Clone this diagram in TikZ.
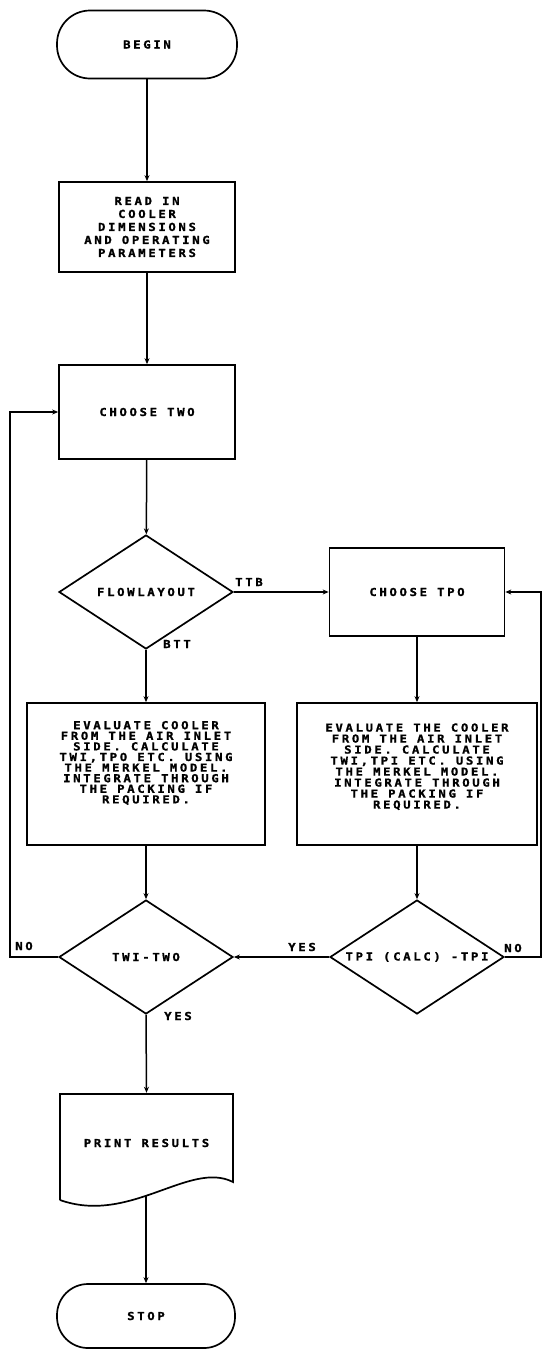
\documentclass[tikz,border=0pt]{standalone}
\usepackage{fontspec}
\usetikzlibrary{shapes.geometric,arrows.meta}
\newfontfamily\plotfont[LetterSpace=24, FakeStretch=1.12, FakeBold=1.3]{DejaVu Sans Mono Bold}
\tikzset{
  every node/.style={font=\plotfont\fontsize{11}{11}\selectfont},
  term/.style={draw, line width=1.7pt, rectangle, rounded corners=33pt, minimum width=180pt, minimum height=68pt},
  proc/.style={draw, line width=1.7pt, rectangle, align=center, inner sep=0pt},
  dec/.style={draw, diamond, line width=1.7pt, aspect=1.5, inner sep=0pt, minimum width=174pt, minimum height=114pt},
  flow/.style={line width=1.5pt, -{Stealth[length=6pt,width=5pt]}},
  lbl/.style={inner sep=0pt},
  docline/.style={line width=1.7pt}
}
\begin{document}
\begin{tikzpicture}[x=1pt,y=-1pt]
\useasboundingbox (0,0) rectangle (544,1352);
% nodes
\node[term] (begin) at (147,44.5) {BEGIN};
\node[proc, minimum width=176pt, minimum height=90pt, font=\plotfont\fontsize{11}{13}\selectfont] (read) at (147,227) {READ IN\\COOLER\\DIMENSIONS\\AND OPERATING\\PARAMETERS};
\node[proc, minimum width=176pt, minimum height=94pt] (two) at (147,412) {CHOOSE TWO};
\node[dec] (flow) at (146,592) {FLOWLAYOUT};
\node[proc, minimum width=175pt, minimum height=88pt] (tpo) at (417,592) {CHOOSE TPO};
\node[proc, minimum width=238pt, minimum height=142pt, font=\plotfont\fontsize{11}{10.6}\selectfont] (evl) at (146,774) {EVALUATE COOLER\\FROM THE AIR INLET\\SIDE. CALCULATE\\TWI,TPO ETC. USING\\THE MERKEL MODEL.\\INTEGRATE THROUGH\\THE PACKING IF\\REQUIRED.\\[13pt]\mbox{}};
\node[proc, minimum width=240pt, minimum height=142pt] (evr) at (417,774) {EVALUATE THE COOLER\\FROM THE AIR INLET\\SIDE. CALCULATE\\TWI,TPI ETC. USING\\THE MERKEL MODEL.\\INTEGRATE THROUGH\\THE PACKING IF\\REQUIRED.\\[5pt]\mbox{}};
\node[dec] (tpi) at (417,957) {TPI (CALC) -TPI};
\node[dec] (twi) at (146,957) {TWI-TWO};
\node[minimum width=173pt, minimum height=100pt, inner sep=0pt] (print) at (146.5,1143) {PRINT RESULTS};
\draw[docline] (60,1200) -- (60,1094) -- (233,1094) -- (233,1182) .. controls (190,1160) and (130,1225) .. (60,1200);
\coordinate (printout) at (146,1196);
\node[term, minimum width=178pt, minimum height=64pt, rounded corners=31pt] (stop) at (146,1316) {STOP};
\coordinate (loopL) at (10,957);
\coordinate (loopR) at (541,957);
% connectors
\draw[flow] (begin) -- (read);
\draw[flow] (read) -- (two);
\draw[flow] (two) -- (flow);
\draw[flow] (flow.east) -- (tpo.west);
\draw[flow] (flow.south) -- (evl.north);
\draw[flow] (tpo.south) -- (evr.north);
\draw[flow] (evl) -- (twi);
\draw[flow] (evr) -- (tpi);
\draw[flow] (tpi.west) -- (twi.east);
\draw[flow] (twi.west) -- (loopL) |- (two.west);
\draw[flow] (tpi.east) -- (loopR) |- (tpo.east);
\draw[flow] (twi.south) -- (print.north);
\draw[flow] (printout) -- (stop.north);
% labels
\node[lbl] (lttb) at (249,582) {TTB};
\node[lbl] (lbtt) at (177,644) {BTT};
\node[lbl] (lno1) at (24,946) {NO};
\node[lbl] (lyes1) at (302,947) {YES};
\node[lbl] (lno2) at (513,948) {NO};
\node[lbl] (lyes2) at (178,1016) {YES};
\end{tikzpicture}
\end{document}
